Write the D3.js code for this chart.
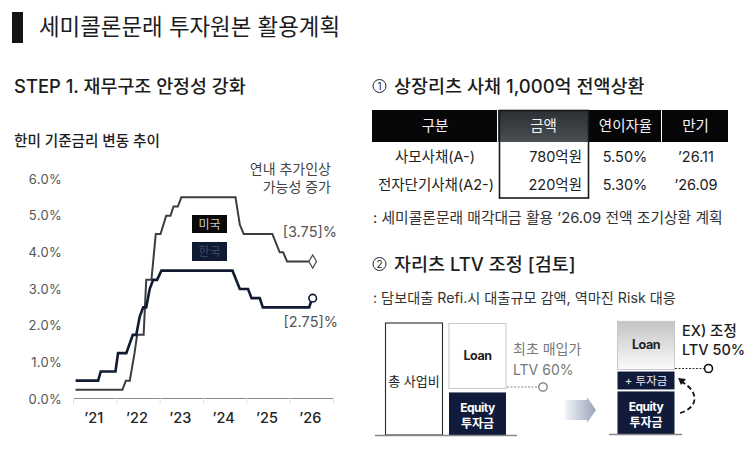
<!DOCTYPE html>
<html>
<head>
<meta charset="utf-8">
<script src="https://cdn.jsdelivr.net/npm/d3@7"></script>
<style>
  html, body { margin: 0; padding: 0; background: #fff; }
  text { font-family: Inter, "Noto Sans CJK KR", sans-serif; }
</style>
</head>
<body>
<div id="chart"></div>
<script>
// Rate chart data, x in decimal years
const yearTicks = [2021, 2022, 2023, 2024, 2025, 2026];
const rateTicks = [0, 1, 2, 3, 4, 5, 6];
const usYears = [2021.06, 2022.14, 2022.22, 2022.31, 2022.42, 2022.48, 2022.63, 2022.69, 2022.81, 2022.91, 2023.02, 2023.15, 2023.25, 2023.32, 2023.42, 2023.5, 2024.75, 2024.85, 2024.94, 2025.6, 2025.77, 2025.85, 2025.94, 2026.52];
const usRates = [0.25, 0.25, 0.5, 0.5, 1.25, 1.75, 1.75, 3.25, 3.25, 4.5, 4.5, 5, 5, 5.25, 5.25, 5.5, 5.5, 4.75, 4.5, 4.5, 4, 4, 3.75, 3.75];
const krYears = [2021.06, 2021.58, 2021.64, 2021.98, 2022.04, 2022.23, 2022.38, 2022.46, 2022.54, 2022.62, 2022.69, 2022.77, 2022.85, 2022.94, 2023.04, 2024.68, 2024.85, 2025.04, 2025.12, 2025.31, 2025.38, 2026.45, 2026.52];
const krRates = [0.5, 0.5, 0.75, 0.75, 1.25, 1.25, 1.75, 1.75, 2.25, 2.5, 2.5, 3, 3.25, 3.25, 3.5, 3.5, 3, 3, 2.75, 2.75, 2.5, 2.5, 2.75];

// Bond table
const tableHead = ["구분", "금액", "연이자율", "만기"];
const tableRows = [
  ["사모사채(A-)", "780억원", "5.50%", "’26.11"],
  ["전자단기사채(A2-)", "220억원", "5.30%", "’26.09"]
];

// Stacks, % of total project cost
const beforeStack = [
  { name: "Loan", value: 58 },
  { name: "Equity", value: 38 }
];
const afterStack = [
  { name: "Loan", value: 43 },
  { name: "+ 투자금", value: 16 },
  { name: "Equity", value: 38 }
];

const svg = d3.select("#chart").append("svg")
  .attr("width", 755).attr("height", 464)
  .style("display", "block");

const defs = svg.append("defs");
const g1 = defs.append("linearGradient").attr("id", "arrowGrad");
g1.append("stop").attr("offset", "0%").attr("stop-color", "#f2f4f8");
g1.append("stop").attr("offset", "100%").attr("stop-color", "#98a3b8");
const g2 = defs.append("linearGradient").attr("id", "loanGrad").attr("x2", 0).attr("y2", 1);
g2.append("stop").attr("offset", "0%").attr("stop-color", "#c4c4c4");
g2.append("stop").attr("offset", "100%").attr("stop-color", "#fbfbfb");
const g3 = defs.append("linearGradient").attr("id", "headGrad").attr("x2", 0).attr("y2", 1);
g3.append("stop").attr("offset", "0%").attr("stop-color", "#2c2f33");
g3.append("stop").attr("offset", "100%").attr("stop-color", "#4a4d52");

function label(x, y, s, size, color, anchor, weight) {
  return svg.append("text").attr("x", x).attr("y", y).text(s)
    .attr("font-size", size).attr("fill", color || "#1c1c1c")
    .attr("text-anchor", anchor || "start")
    .attr("font-weight", weight || 400);
}

// Headings
svg.append("rect").attr("x", 12).attr("y", 12).attr("width", 11).attr("height", 31).attr("fill", "#141414");
label(39, 35, "세미콜론문래 투자원본 활용계획", 22.4);
label(14, 93, "STEP 1. 재무구조 안정성 강화", 18.4, "#1c1c1c", "start", 500);
label(14, 146, "한미 기준금리 변동 추이", 14.6, "#1c1c1c", "start", 500);

// Rate chart
const x = d3.scaleLinear().domain([2021, 2027]).range([73, 333]);
const y = d3.scaleLinear().domain([0, 6]).range([399, 179]);

const yAxis = svg.append("g")
  .attr("transform", "translate(62,0)")
  .call(d3.axisLeft(y).tickValues(rateTicks).tickSize(0).tickPadding(0).tickFormat(d => d.toFixed(1) + "%"));
yAxis.select(".domain").remove();
yAxis.selectAll("text").attr("font-size", 13).attr("fill", "#555").style("letter-spacing", "0.3px")
  .style("font-family", 'Inter, sans-serif');

const xAxis = svg.append("g")
  .attr("transform", "translate(0,398)")
  .call(d3.axisBottom(x).tickValues(yearTicks.concat([2027])).tickSize(6).tickFormat(""));
xAxis.select(".domain").attr("stroke", "#8a8a8a").attr("stroke-width", 1);
xAxis.selectAll("line").attr("stroke", "#e2e2e2");
svg.append("g").selectAll("text").data(yearTicks).join("text")
  .attr("x", d => x(d + 0.5) - 1)
  .attr("y", 423)
  .attr("text-anchor", "middle")
  .attr("font-size", 14.5)
  .attr("font-weight", 500)
  .attr("fill", "#222")
  .text(d => "’" + String(d).slice(2));

const line = d3.line().x(d => x(d[0])).y(d => y(d[1]));
svg.append("path").datum(d3.zip(usYears, usRates))
  .attr("d", line).attr("fill", "none").attr("stroke", "#3a3d42").attr("stroke-width", 2);
svg.append("path").datum(d3.zip(krYears, krRates))
  .attr("d", line).attr("fill", "none").attr("stroke", "#101a33").attr("stroke-width", 2.6);

// Series end markers
const usEnd = [usYears[usYears.length - 1], usRates[usRates.length - 1]];
const krEnd = [krYears[krYears.length - 1], krRates[krRates.length - 1]];
svg.append("path")
  .attr("d", d3.symbol(d3.symbolDiamond, 50)())
  .attr("transform", `translate(${x(usEnd[0]) + 0.5},${y(usEnd[1])})`)
  .attr("fill", "#fff").attr("stroke", "#3a3d42").attr("stroke-width", 1.1);
svg.append("circle").attr("cx", x(krEnd[0]) + 0.5).attr("cy", y(krEnd[1]))
  .attr("r", 3.8).attr("fill", "#fff").attr("stroke", "#101a33").attr("stroke-width", 1.6);

label(331, 174, "연내 추가인상", 14, "#444", "end");
label(331, 192, "가능성 증가", 14, "#444", "end");
label(337, 237, "[3.75]%", 14.5, "#555", "end");
label(338, 327, "[2.75]%", 14.5, "#555", "end");

// Country tags
svg.append("rect").attr("x", 192).attr("y", 215).attr("width", 35).attr("height", 18).attr("fill", "#0a0a0a");
label(209.5, 229, "미국", 12, "#c8c8c8", "middle");
svg.append("rect").attr("x", 192).attr("y", 242).attr("width", 35).attr("height", 19).attr("fill", "#0f1a33");
label(209.5, 256, "한국", 12, "#3b4a68", "middle");

// Bond section
svg.append("circle").attr("cx", 379.5).attr("cy", 86).attr("r", 6.5).attr("fill", "none").attr("stroke", "#222").attr("stroke-width", 1);
label(379.5, 90, "1", 10, "#222", "middle");
label(394, 93, "상장리츠 사채 1,000억 전액상환", 18.5, "#1c1c1c", "start", 500);

const colEdges = [372, 498, 589, 662, 729];
const colCentre = i => (colEdges[i] + colEdges[i + 1]) / 2;
svg.append("g").selectAll("rect").data(tableHead).join("rect")
  .attr("x", (d, i) => colEdges[i])
  .attr("y", 110)
  .attr("width", (d, i) => colEdges[i + 1] - colEdges[i] - 1)
  .attr("height", 32)
  .attr("fill", (d, i) => i === 1 ? "url(#headGrad)" : "#07070a");
svg.append("g").selectAll("text").data(tableHead).join("text")
  .attr("x", (d, i) => colCentre(i))
  .attr("y", 131)
  .attr("text-anchor", "middle")
  .attr("font-size", 14.5)
  .attr("fill", "#f4f4f4")
  .text(d => d);

tableRows.forEach((row, r) => {
  const ty = 162 + r * 27.5;
  label(r === 0 ? 435 : 436, ty, row[0], 14.5, "#222", "middle");
  label(582, ty, row[1], 14.5, "#222", "end");
  label(625, ty, row[2], 14.5, "#222", "middle");
  label(696, ty, row[3], 14.5, "#222", "middle");
});
svg.append("rect").attr("x", 499.5).attr("y", 110.5).attr("width", 89).attr("height", 87.5)
  .attr("fill", "none").attr("stroke", "#1a1a1a").attr("stroke-width", 1.6);

label(373, 223, ": 세미콜론문래 매각대금 활용 ’26.09 전액 조기상환 계획", 14.8, "#333");

// LTV section
svg.append("circle").attr("cx", 379.5).attr("cy", 264).attr("r", 6.5).attr("fill", "none").attr("stroke", "#222").attr("stroke-width", 1);
label(379.5, 268, "2", 10, "#222", "middle");
label(394, 271, "자리츠 LTV 조정 [검토]", 18.5, "#1c1c1c", "start", 500);
label(373, 303, ": 담보대출 Refi.시 대출규모 감액, 역마진 Risk 대응", 14.2, "#333");

const h = d3.scaleLinear().domain([0, 100]).range([0, 112]);

// total cost box
svg.append("rect").attr("x", 385.5).attr("y", 323).attr("width", 57).attr("height", h(100))
  .attr("fill", "#fff").attr("stroke", "#2a2a2a").attr("stroke-width", 1.1);
label(414, 386, "총 사업비", 13, "#222", "middle");

function drawStack(stack, left, base, gap) {
  let top = base;
  stack.slice().reverse().forEach(s => {
    top -= h(s.value);
    const isLoan = s.name === "Loan";
    svg.append("rect").attr("x", left).attr("y", top).attr("width", 57).attr("height", h(s.value))
      .attr("fill", isLoan ? (left > 600 ? "url(#loanGrad)" : "#fff") : "#101b3c")
      .attr("stroke", isLoan ? "#c8c8c8" : "none");
    const mid = top + h(s.value) / 2;
    if (isLoan) {
      label(left + 28.5, mid + 4, s.name, 12.5, "#222", "middle", 700).style("letter-spacing", "-0.5px");
    } else if (s.name === "Equity") {
      label(left + 28.5, mid - 2, s.name, 12, "#fff", "middle", 700).style("letter-spacing", "-0.5px");
      label(left + 28.5, mid + 14, "투자금", 12, "#fff", "middle", 700);
    } else {
      label(left + 28.5, mid + 4.5, s.name, 11.5, "#e8e8f0", "middle");
    }
    top -= gap;
  });
}
drawStack(beforeStack, 449, 435, 4);
drawStack(afterStack, 617.5, 434, 2);

svg.append("line").attr("x1", 375).attr("x2", 517).attr("y1", 435.5).attr("y2", 435.5).attr("stroke", "#888").attr("stroke-width", 1.4);
svg.append("line").attr("x1", 609).attr("x2", 682).attr("y1", 434.5).attr("y2", 434.5).attr("stroke", "#888").attr("stroke-width", 1.4);

// before callout
label(513, 354, "최초 매입가", 14, "#777");
label(513, 375, "LTV 60%", 14, "#777");
svg.append("line").attr("x1", 507).attr("x2", 538).attr("y1", 387).attr("y2", 387).attr("stroke", "#888").attr("stroke-dasharray", "2,1.5");
svg.append("circle").attr("cx", 543).attr("cy", 387).attr("r", 4.2).attr("fill", "#fff").attr("stroke", "#777").attr("stroke-width", 1.3);

// transition arrow
svg.append("path").attr("d", "M565,400 H587 V397 L596,410 L587,423 V420 H565 Z").attr("fill", "url(#arrowGrad)");

// after callout
label(682, 336, "EX) 조정", 14.5, "#1c1c1c", "start", 500);
label(682, 355, "LTV 50%", 14.5, "#1c1c1c", "start", 500);
svg.append("line").attr("x1", 675).attr("x2", 704).attr("y1", 368.5).attr("y2", 368.5).attr("stroke", "#333").attr("stroke-dasharray", "2,1.5");
svg.append("circle").attr("cx", 708.5).attr("cy", 368.5).attr("r", 4).attr("fill", "#fff").attr("stroke", "#111").attr("stroke-width", 1.6);

// dashed arrow from equity up to the top-up
svg.append("path").attr("d", "M680,413 C698,408 700,392 682,382")
  .attr("fill", "none").attr("stroke", "#111").attr("stroke-width", 1.8).attr("stroke-dasharray", "5,3");
svg.append("path").attr("d", "M678,378 L686,379 L681,385 Z").attr("fill", "#111");
</script>
</body>
</html>
